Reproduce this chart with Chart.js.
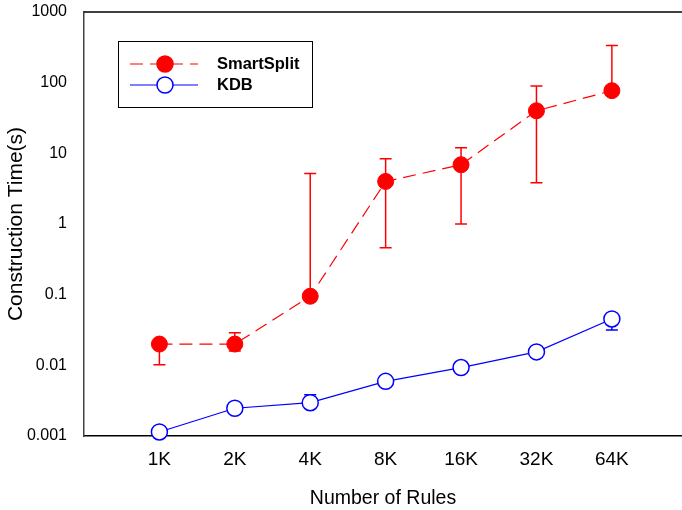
<!DOCTYPE html>
<html>
<head>
<meta charset="utf-8">
<script src="https://cdn.jsdelivr.net/npm/chart.js@4"></script>
<style>
  html, body { margin: 0; padding: 0; background: #fff; }
  #wrap { width: 682px; height: 510px; }
</style>
</head>
<body>
<div id="wrap"><canvas id="myChart" width="682" height="510"></canvas></div>
<script>
// Data
const ruleLabels = ['1K', '2K', '4K', '8K', '16K', '32K', '64K'];
const yTicks = [0.001, 0.01, 0.1, 1, 10, 100, 1000];

const smartSplit = [0.02, 0.02, 0.095, 4.0, 6.9, 40, 77];
const smartSplitUpper = [null, 0.029, 5.2, 8.4, 12.0, 90, 337];
const smartSplitLower = [0.0102, 0.016, null, 0.46, 1.0, 3.84, null];

const kdb = [0.00114, 0.00247, 0.00296, 0.00594, 0.0093, 0.0155, 0.0453];
const kdbUpper = [null, null, 0.00385, null, null, null, null];
const kdbLower = [null, 0.0021, null, null, null, null, 0.0316];

const FONT = '"Liberation Sans", Arial, sans-serif';
const toPoints = arr => arr.map((v, i) => ({ x: i, y: v }));

// Plugin untuk error bar
const errorBars = {
    id: 'errorBars',
    beforeDatasetsDraw(chart) {
        const ctx = chart.ctx;
        const xs = chart.scales.x, ys = chart.scales.y;
        chart.data.datasets.forEach(ds => {
            ctx.save();
            ctx.strokeStyle = ds.errColor;
            ctx.lineWidth = 1.5;
            ds.data.forEach((p, i) => {
                const px = xs.getPixelForValue(p.x);
                const py = ys.getPixelForValue(p.y);
                [ds.upper[i], ds.lower[i]].forEach(e => {
                    if (e == null) return;
                    const ey = ys.getPixelForValue(e);
                    ctx.beginPath();
                    ctx.moveTo(px, py);
                    ctx.lineTo(px, ey);
                    ctx.moveTo(px - 6, ey);
                    ctx.lineTo(px + 6, ey);
                    ctx.stroke();
                });
            });
            ctx.restore();
        });
    }
};

// Plugin untuk legend di dalam area chart dan garis atas
const boxLegend = {
    id: 'boxLegend',
    afterDraw(chart) {
        const ctx = chart.ctx;
        const a = chart.chartArea;
        ctx.save();
        // garis atas
        ctx.strokeStyle = '#000';
        ctx.lineWidth = 1.5;
        ctx.beginPath();
        ctx.moveTo(a.left, a.top);
        ctx.lineTo(a.right, a.top);
        ctx.stroke();
        // kotak legend
        const bx = a.left + 34, by = a.top + 29, bw = 194, bh = 66;
        ctx.lineWidth = 1;
        ctx.strokeRect(bx + 0.5, by + 0.5, bw, bh);
        chart.data.datasets.forEach((ds, i) => {
            const y = by + 23 + i * 21;
            ctx.strokeStyle = ds.borderColor;
            ctx.lineWidth = ds.borderWidth;
            ctx.setLineDash(ds.borderDash || []);
            ctx.beginPath();
            ctx.moveTo(bx + 12, y);
            ctx.lineTo(bx + 80, y);
            ctx.stroke();
            ctx.setLineDash([]);
            ctx.beginPath();
            ctx.arc(bx + 47, y, 8, 0, Math.PI * 2);
            ctx.fillStyle = ds.pointBackgroundColor;
            ctx.fill();
            ctx.lineWidth = 1.5;
            ctx.strokeStyle = ds.pointBorderColor;
            ctx.stroke();
            ctx.fillStyle = '#000';
            ctx.font = 'bold 16.5px ' + FONT;
            ctx.textBaseline = 'middle';
            ctx.fillText(ds.label, bx + 99, y);
        });
        ctx.restore();
    }
};

const ctx = document.getElementById('myChart').getContext('2d');
const myChart = new Chart(ctx, {
    type: 'line',
    data: {
        datasets: [{
            label: 'SmartSplit',
            data: toPoints(smartSplit),
            upper: smartSplitUpper,
            lower: smartSplitLower,
            errColor: '#ff0000',
            borderColor: '#ff0000',
            borderWidth: 1.2,
            borderDash: [13, 7],
            pointRadius: 8,
            pointBackgroundColor: '#ff0000',
            pointBorderColor: '#ff0000',
            pointBorderWidth: 1,
            tension: 0
        }, {
            label: 'KDB',
            data: toPoints(kdb),
            upper: kdbUpper,
            lower: kdbLower,
            errColor: '#0000ff',
            borderColor: '#0000ff',
            borderWidth: 1.2,
            pointRadius: 8,
            pointBackgroundColor: '#ffffff',
            pointBorderColor: '#0000ff',
            pointBorderWidth: 1.5,
            tension: 0
        }]
    },
    options: {
        responsive: false,
        animation: false,
        clip: false,
        layout: { autoPadding: false, padding: { top: 12, right: 0, left: 0, bottom: 0 } },
        plugins: { legend: { display: false }, tooltip: { enabled: false } },
        scales: {
            x: {
                type: 'linear',
                min: -1,
                max: 6.93,
                afterBuildTicks: s => { s.ticks = ruleLabels.map((_, i) => ({ value: i })); },
                afterFit: s => { s.height = 74; s.paddingLeft = 0; s.paddingRight = 0; },
                grid: { display: false, drawTicks: true, tickLength: 6, tickColor: '#000' },
                border: { color: '#000', width: 1.5 },
                ticks: {
                    callback: v => ruleLabels[v],
                    color: '#000',
                    padding: 6,
                    maxRotation: 0,
                    font: { family: FONT, size: 19 }
                },
                title: {
                    display: true,
                    text: 'Number of Rules',
                    color: '#000',
                    padding: { top: 0, bottom: 0 },
                    font: { family: FONT, size: 19.5 }
                }
            },
            y: {
                type: 'logarithmic',
                min: 0.001,
                max: 1000,
                afterBuildTicks: s => { s.ticks = yTicks.map(v => ({ value: v })); },
                afterFit: s => { s.width = 84; s.paddingTop = 0; s.paddingBottom = 0; },
                grid: { display: false, drawTicks: true, tickLength: 6, tickColor: '#000' },
                border: { color: '#444', width: 1.5 },
                ticks: {
                    callback: v => String(v),
                    color: '#000',
                    padding: 11,
                    font: { family: FONT, size: 16 }
                },
                title: {
                    display: true,
                    text: 'Construction Time(s)',
                    color: '#000',
                    padding: { top: 4, bottom: 0 },
                    font: { family: FONT, size: 21 }
                }
            }
        }
    },
    plugins: [errorBars, boxLegend]
});
</script>
</body>
</html>
